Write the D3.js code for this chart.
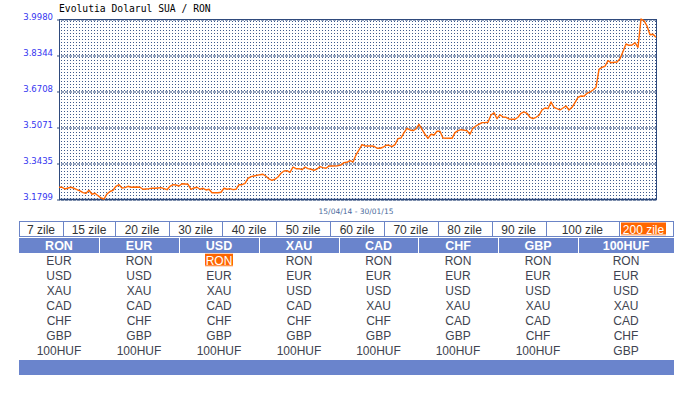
<!DOCTYPE html>
<html><head><meta charset="utf-8">
<script src="https://cdn.jsdelivr.net/npm/d3@7"></script>
<style>html,body{margin:0;padding:0;background:#fff;}svg{display:block;}</style>
</head><body>
<script>
// ---- data ----
const title = "Evolutia Dolarul SUA / RON";
const dateRange = "15/04/14 - 30/01/15";
const yTickLabels = ["3.1799","3.3435","3.5071","3.6708","3.8344","3.9980"];
const days = [0,1,2,3,4,5,6,7,8,9,10,11,12,13,14,15,16,17,18,19,20,21,22,23,24,26,27,28,30,31,32,33,34,36,37,38,39,40,41,43,44,45,46,47,48,49,50,51,53,54,55,56,57,58,59,60,61,62,63,64,65,67,68,69,70,71,72,73,74,75,76,77,78,79,80,81,82,83,84,85,86,87,88,89,90,91,93,94,95,96,97,98,99,100,101,102,104,105,106,107,108,109,110,111,112,113,114,115,116,117,118,119,120,121,122,123,124,125,126,127,128,130,131,132,133,134,136,137,138,139,141,142,143,144,145,146,147,148,149,150,151,152,153,154,155,156,157,158,159,160,161,162,163,164,165,166,167,168,169,170,171,172,173,174,175,176,177,178,179,180,181,182,183,184,185,186,187,188,189,190,191,192,193,194,195,196,197,198,199];
const rates = [3.2332,3.2332,3.2255,3.2300,3.2332,3.2286,3.2223,3.2164,3.2086,3.2059,3.2195,3.2014,3.2059,3.1950,3.1846,3.1799,3.2027,3.2141,3.2195,3.2377,3.2450,3.2300,3.2314,3.2377,3.2332,3.2345,3.2332,3.2241,3.2268,3.2286,3.2286,3.2300,3.2314,3.2223,3.2377,3.2450,3.2436,3.2391,3.2495,3.2468,3.2241,3.2300,3.2332,3.2241,3.2286,3.2209,3.2241,3.2086,3.2086,3.2105,3.2286,3.2241,3.2268,3.2223,3.2241,3.2450,3.2450,3.2514,3.2741,3.2814,3.2845,3.2904,3.2923,3.2832,3.2709,3.2650,3.2695,3.2800,3.2968,3.3073,3.3086,3.3013,3.3254,3.3177,3.3177,3.3132,3.3254,3.3177,3.3150,3.3104,3.3163,3.3268,3.3223,3.3195,3.3300,3.3300,3.3313,3.3345,3.3450,3.3468,3.3541,3.3482,3.3800,3.4027,3.4268,3.4209,3.4209,3.4195,3.4104,3.4104,3.4150,3.4240,3.4240,3.4177,3.4268,3.4540,3.4572,3.4813,3.5013,3.4936,3.4904,3.4981,3.5195,3.4968,3.4740,3.4558,3.4740,3.4709,3.4877,3.4877,3.4572,3.4558,3.4558,3.4813,3.4904,3.4949,3.4904,3.4740,3.5027,3.5118,3.5268,3.5268,3.5286,3.5617,3.5722,3.5449,3.5631,3.5527,3.5513,3.5436,3.5422,3.5422,3.5513,3.5695,3.5754,3.5695,3.5513,3.5449,3.5513,3.5604,3.5845,3.5936,3.5904,3.6208,3.5967,3.5904,3.5845,3.5936,3.6026,3.5845,3.5967,3.6176,3.6422,3.6481,3.6467,3.6603,3.6663,3.6753,3.6876,3.7694,3.7785,3.7831,3.8085,3.7994,3.8012,3.8026,3.8176,3.8503,3.8844,3.8785,3.8798,3.8903,3.8694,3.9980,3.9903,3.9662,3.9267,3.9285,3.9148];
const periods = ["7 zile","15 zile","20 zile","30 zile","40 zile","50 zile","60 zile","70 zile","80 zile","90 zile","100 zile","200 zile"];
const activePeriod = "200 zile";
const currencies = ["RON","EUR","USD","XAU","CAD","CHF","GBP","100HUF"];
const activeBase = "USD", activeQuote = "RON";

// ---- layout ----
const W = 683, H = 393;
const plot = {l:59, r:656, t:19, b:199};
const tabEdges = [19,63,115,169,222,276,330,384,437.5,491.7,545.7,619,674];
const colEdges = [19,99,179,259,339,418,498,578,674];
const navy = "#2f4a7c", blueBg = "#6a84cc", orange = "#ff6600";

const svg = d3.select("body").append("svg").attr("width",W).attr("height",H);

const defs = svg.append("defs");
const pat = defs.append("pattern").attr("id","dots").attr("patternUnits","userSpaceOnUse")
  .attr("width",3).attr("height",3).attr("x",plot.l+2).attr("y",plot.t+2);
pat.append("rect").attr("width",1).attr("height",1).attr("fill","#3f5a8c");

const yVals = yTickLabels.map(Number);
const y = d3.scaleLinear().domain([d3.min(yVals), d3.max(yVals)]).range([plot.b, plot.t]);
const x = d3.scaleLinear().domain([d3.min(days), d3.max(days)]).range([plot.l, plot.r]);

svg.append("rect").attr("x",plot.l).attr("y",plot.t).attr("width",plot.r-plot.l).attr("height",plot.b-plot.t)
  .attr("fill","url(#dots)");

// grid lines
const yAxis = d3.axisLeft(y).tickValues(yVals).tickSize(-(plot.r-plot.l)-2).tickFormat((d,i)=>yTickLabels[i]);
const ga = svg.append("g").attr("transform",`translate(${plot.l-2},0)`).call(yAxis);
ga.select(".domain").remove();
ga.selectAll(".tick line").attr("stroke",navy).attr("stroke-dasharray","3,1").attr("transform","translate(0,0.5)");
ga.selectAll(".tick text").attr("x",-4).attr("dy","0").attr("y",0.5)
  .attr("fill","#3535f0").attr("font-family","DejaVu Sans").attr("font-size","8.5px");

// frame
svg.append("line").attr("x1",plot.l+0.5).attr("x2",plot.l+0.5).attr("y1",plot.t).attr("y2",plot.b+1).attr("stroke",navy);
svg.append("line").attr("x1",plot.r+0.5).attr("x2",plot.r+0.5).attr("y1",plot.t).attr("y2",plot.b+1).attr("stroke",navy);
svg.append("line").attr("x1",plot.l).attr("x2",plot.r+1).attr("y1",plot.t+0.5).attr("y2",plot.t+0.5).attr("stroke",navy);
svg.append("line").attr("x1",plot.l).attr("x2",plot.r+1).attr("y1",plot.b+0.5).attr("y2",plot.b+0.5).attr("stroke",navy).attr("stroke-width",1.5);

// line
const line = d3.line().x((d,i)=>x(days[i])).y(d=>y(d));
svg.append("path").datum(rates).attr("d",line).attr("fill","none").attr("stroke",orange).attr("stroke-width",1.4)
  .attr("stroke-linejoin","round");

// title & date range
svg.append("text").attr("x",59).attr("y",12).text(title)
  .attr("font-family","DejaVu Sans Mono").attr("font-size","9.7px").attr("fill","#000");
svg.append("text").attr("x",356).attr("y",214).attr("text-anchor","middle").text(dateRange)
  .attr("font-family","DejaVu Sans").attr("font-size","7.5px").attr("fill","#4a6a9c");

// period tabs
const tabY = 221.5, tabH = 15;
const tabs = svg.append("g");
periods.forEach((p,i)=>{
  const x0 = tabEdges[i], x1 = tabEdges[i+1];
  const cx = (x0+x1)/2;
  if (p === activePeriod) {
    tabs.append("rect").attr("x",x0+2).attr("y",tabY+1).attr("width",x1-x0-10).attr("height",tabH-2).attr("fill",orange);
    tabs.append("text").attr("x",(x0+2+x1-8)/2).attr("y",tabY+12).attr("text-anchor","middle").text(p)
      .attr("font-family","Liberation Sans").attr("font-size","12px").attr("fill","#fff");
    tabs.append("line").attr("x1",x0+2).attr("x2",x1-8).attr("y1",tabY+13.5).attr("y2",tabY+13.5).attr("stroke","#fff");
  } else {
    tabs.append("text").attr("x",cx).attr("y",tabY+12).attr("text-anchor","middle").text(p)
      .attr("font-family","Liberation Sans").attr("font-size","12px").attr("fill","#333");
  }
});
tabs.append("rect").attr("x",19.5).attr("y",tabY).attr("width",673.5-19.5).attr("height",tabH)
  .attr("fill","none").attr("stroke","#6b84c6");
tabEdges.slice(1,-1).forEach(e=>{
  tabs.append("line").attr("x1",Math.round(e)+0.5).attr("x2",Math.round(e)+0.5).attr("y1",tabY).attr("y2",tabY+tabH).attr("stroke","#6b84c6");
});

// currency header
const hdrY = 238, hdrH = 15;
currencies.forEach((c,i)=>{
  const x0 = colEdges[i], x1 = colEdges[i+1];
  svg.append("rect").attr("x",x0+(i?1:0)).attr("y",hdrY).attr("width",x1-x0-(i?1:0)).attr("height",hdrH).attr("fill",blueBg);
  svg.append("text").attr("x",(x0+x1)/2).attr("y",hdrY+12).attr("text-anchor","middle").text(c)
    .attr("font-family","Liberation Sans").attr("font-weight","bold").attr("font-size","12.5px").attr("fill","#fff");
  const others = currencies.filter(o=>o!==c);
  others.forEach((o,j)=>{
    const cy = 260.7 + j*15;
    const cx = (x0+x1)/2;
    if (c===activeBase && o===activeQuote) {
      svg.append("rect").attr("x",cx-14).attr("y",cy-7).attr("width",28).attr("height",13).attr("fill",orange);
      svg.append("line").attr("x1",cx-14).attr("x2",cx+14).attr("y1",cy+5.5).attr("y2",cy+5.5).attr("stroke","#fff");
      svg.append("text").attr("x",cx).attr("y",cy+4.5).attr("text-anchor","middle").text(o)
        .attr("font-family","Liberation Sans").attr("font-size","12px").attr("fill","#fff");
    } else {
      svg.append("text").attr("x",cx).attr("y",cy+4.5).attr("text-anchor","middle").text(o)
        .attr("font-family","Liberation Sans").attr("font-size","12px").attr("fill","#3e4350");
    }
  });
});
// footer bar
svg.append("rect").attr("x",19).attr("y",360).attr("width",674-19).attr("height",15).attr("fill",blueBg);
</script>
</body></html>
